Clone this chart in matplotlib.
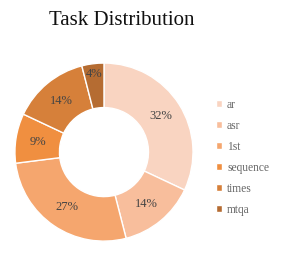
import matplotlib
matplotlib.use("Agg")
import matplotlib.pyplot as plt
import numpy as np

labels = ["ar", "asr", "1st", "sequence", "times", "mtqa"]
values = [32, 14, 27, 9, 14, 4]
colors = ["#f9d4c1", "#f8be9c", "#f5a66e", "#f08f40", "#d6803a", "#b56c32"]

plt.rcParams["font.family"] = ["Liberation Serif", "DejaVu Serif"]

fig = plt.figure(figsize=(2.81, 2.62), dpi=100)
ax = fig.add_axes([0.05, 0.076, 0.64, 0.687])

wedges, texts, autotexts = ax.pie(
    values, colors=colors, startangle=90, counterclock=False,
    autopct="%d%%", pctdistance=0.75,
    wedgeprops=dict(width=0.5, edgecolor="white", linewidth=1),
    textprops=dict(color="#444444", fontsize=9),
)
ax.set_aspect("equal")
ax.set_xlim(-1.01, 1.01)
ax.set_ylim(-1.01, 1.01)

# the thin last slice has its label pushed toward the outer edge
w = wedges[-1]
ang = np.deg2rad((w.theta1 + w.theta2) / 2)
autotexts[-1].set_position((0.88 * np.cos(ang), 0.88 * np.sin(ang)))

fig.text(0.435, 0.92, "Task Distribution", ha="center", va="center",
         fontsize=15, color="#111111")

leg = fig.legend(wedges, labels, loc="center left",
                 bbox_to_anchor=(0.73, 0.4), frameon=False,
                 fontsize=8.3, handlelength=0.55, handleheight=0.55,
                 handletextpad=0.45, labelspacing=0.78)
for t in leg.get_texts():
    t.set_color("#666666")

fig.savefig("out.png", dpi=100)
